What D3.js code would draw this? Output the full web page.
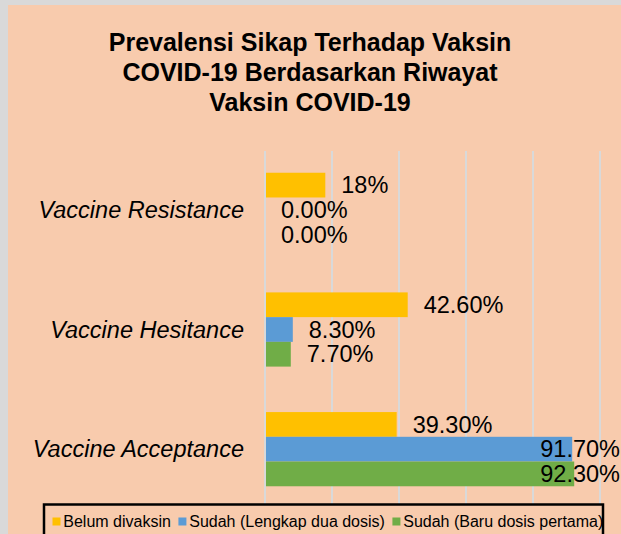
<!DOCTYPE html>
<html>
<head>
<meta charset="utf-8">
<script src="https://cdn.jsdelivr.net/npm/d3@7"></script>
<style>
  html, body { margin: 0; padding: 0; background: #d9d9d9; }
  svg { display: block; font-family: "Liberation Sans", Arial, sans-serif; }
</style>
</head>
<body>
<div id="viz"></div>
<script>
const W = 621;
const H = 534;

// Chart data.
const categories = ['Vaccine Resistance', 'Vaccine Hesitance', 'Vaccine Acceptance'];
const seriesNames = ['Belum divaksin', 'Sudah (Lengkap dua dosis)', 'Sudah (Baru dosis pertama)'];
const belumValues = [18, 42.6, 39.3];
const lengkapValues = [0, 8.3, 91.7];
const baruValues = [0, 7.7, 92.3];
const belumLabels = ['18%', '42.60%', '39.30%'];
const lengkapLabels = ['0.00%', '8.30%', '91.70%'];
const baruLabels = ['0.00%', '7.70%', '92.30%'];
const gridTicks = [0, 20, 40, 60, 80, 100];
const titleLines = ['Prevalensi Sikap Terhadap Vaksin', 'COVID-19 Berdasarkan Riwayat', 'Vaksin COVID-19'];

const COLORS = ['#ffc000', '#5b9bd5', '#70ad47'];
const BG = '#f8cbad';
const GRID = '#d9d9d9';

const series = [
  { name: seriesNames[0], values: belumValues, labels: belumLabels },
  { name: seriesNames[1], values: lengkapValues, labels: lengkapLabels },
  { name: seriesNames[2], values: baruValues, labels: baruLabels },
];

const svg = d3.select('#viz')
  .append('svg')
  .attr('width', W)
  .attr('height', H);

// grey frame on the top and left, peach chart area
svg.append('rect').attr('width', W).attr('height', H).attr('fill', GRID);
svg.append('rect').attr('x', 8).attr('y', 5).attr('width', W - 8).attr('height', H - 5).attr('fill', BG);

// title
svg.append('text')
  .attr('x', 310)
  .attr('text-anchor', 'middle')
  .attr('font-size', 25)
  .attr('font-weight', 700)
  .attr('fill', '#000')
  .selectAll('tspan')
  .data(titleLines)
  .join('tspan')
  .attr('x', 310)
  .attr('y', (d, i) => 51 + i * 29.8)
  .text((d) => d);

const x = d3.scaleLinear().domain([0, 100]).range([265, 600]);
const y = d3.scaleBand().domain(categories).range([150, 509]).paddingInner(0.38).paddingOuter(0.19);
const ySub = d3.scaleBand().domain(d3.range(series.length)).range([0, y.bandwidth()]);

// vertical gridlines
svg.append('g')
  .selectAll('line')
  .data(gridTicks)
  .join('line')
  .attr('x1', (d) => x(d))
  .attr('x2', (d) => x(d))
  .attr('y1', 151)
  .attr('y2', H)
  .attr('stroke', GRID)
  .attr('stroke-width', 2);

// flatten series x category
const cells = [];
series.forEach((s, si) => {
  categories.forEach((c, ci) => {
    cells.push({ si, cat: c, value: s.values[ci], label: s.labels[ci] });
  });
});

svg.append('g')
  .selectAll('rect')
  .data(cells.filter((d) => d.value > 0))
  .join('rect')
  .attr('x', x(0) + 1)
  .attr('y', (d) => y(d.cat) + ySub(d.si))
  .attr('width', (d) => x(d.value) - x(0) - 1)
  .attr('height', ySub.bandwidth())
  .attr('fill', (d) => COLORS[d.si]);

// data labels: outside end, pushed back inside the right edge if they overflow
const labels = svg.append('g')
  .selectAll('text')
  .data(cells)
  .join('text')
  .attr('y', (d) => y(d.cat) + ySub(d.si) + ySub.bandwidth() / 2)
  .attr('dy', '0.35em')
  .attr('font-size', 23.5)
  .attr('fill', '#000')
  .text((d) => d.label);

labels.attr('x', function (d) {
  const w = this.getComputedTextLength();
  return Math.min(x(d.value) + 16, 620 - w);
});

// category labels
svg.append('g')
  .selectAll('text')
  .data(categories)
  .join('text')
  .attr('x', 244)
  .attr('y', (d) => y(d) + y.bandwidth() / 2)
  .attr('dy', '0.35em')
  .attr('text-anchor', 'end')
  .attr('font-size', 23.5)
  .attr('font-style', 'italic')
  .attr('fill', '#000')
  .text((d) => d);

// legend
const legend = svg.append('g');
legend.append('rect')
  .attr('x', 44)
  .attr('y', 504.5)
  .attr('width', 559)
  .attr('height', 40)
  .attr('fill', BG)
  .attr('stroke', '#000')
  .attr('stroke-width', 2.5);

let lx = 52.5;
series.forEach((s, i) => {
  legend.append('rect')
    .attr('x', lx)
    .attr('y', 517.5)
    .attr('width', 8)
    .attr('height', 8)
    .attr('fill', COLORS[i]);
  const t = legend.append('text')
    .attr('x', lx + 10.8)
    .attr('y', 526.7)
    .attr('font-size', 16)
    .attr('fill', '#000')
    .text(s.name);
  lx += 10.8 + t.node().getComputedTextLength() + 7.5;
});
</script>
</body>
</html>
